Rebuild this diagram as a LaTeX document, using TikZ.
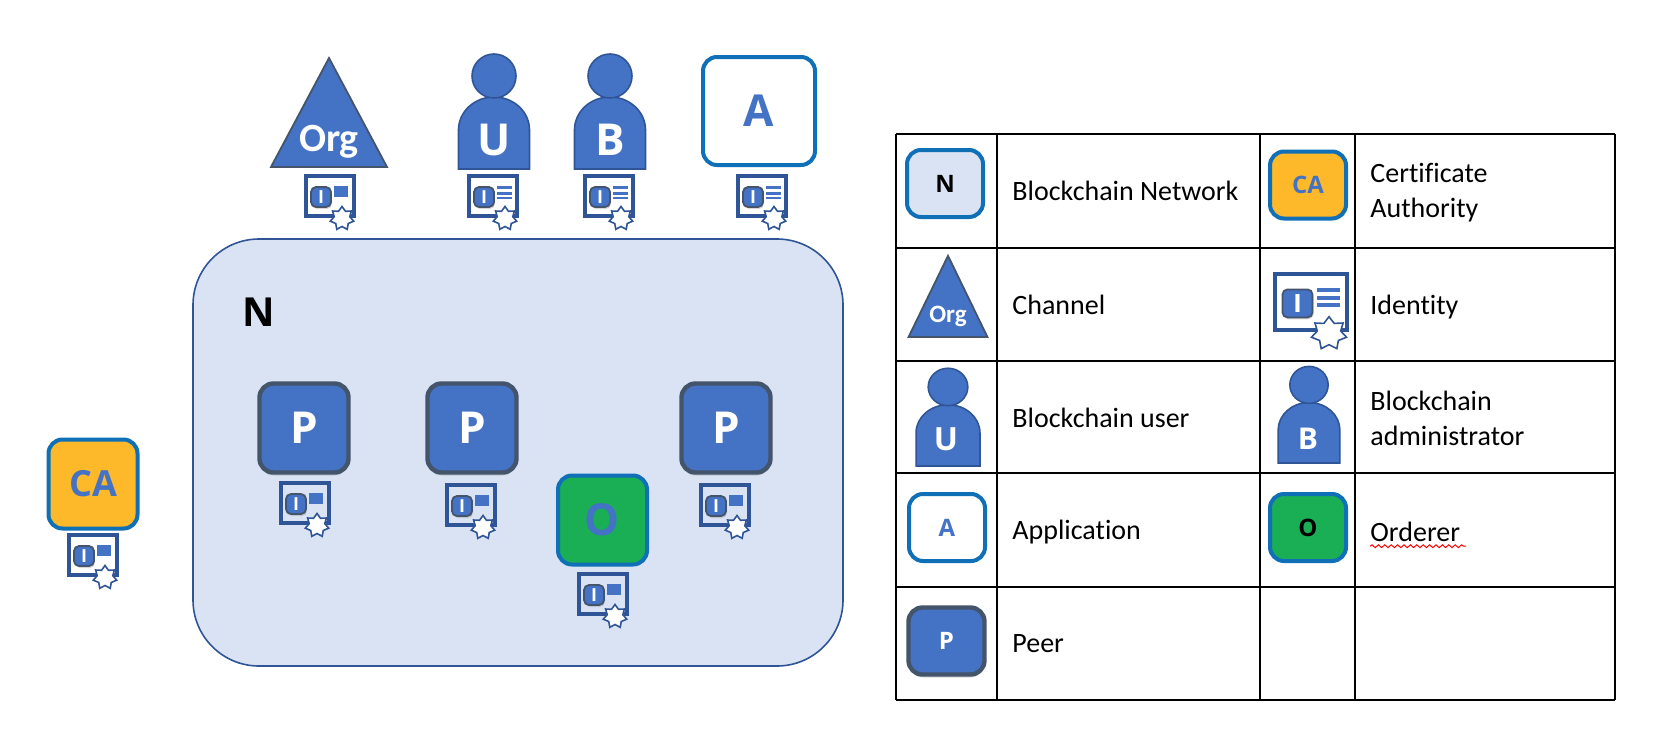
\documentclass[tikz,border=0pt]{standalone}
\usepackage{fontspec}
\setmainfont{Carlito}[Ligatures=CommonOff]
\newfontfamily\badgefont{Open Sans}
\usetikzlibrary{shapes.geometric}
\usetikzlibrary{shadows}
\usetikzlibrary{decorations.pathmorphing}
\definecolor{bluefill}{HTML}{4472C4}
\definecolor{blueline}{HTML}{2F5597}
\definecolor{ringblue}{HTML}{0F70B7}
\definecolor{slate}{HTML}{44546A}
\definecolor{netfill}{HTML}{DAE3F3}
\definecolor{caamber}{HTML}{FDB92A}
\definecolor{ordgreen}{HTML}{1AAF54}
\tikzset{badge/.style = {rounded corners=7pt, font=\badgefont\bfseries, inner sep=0}}
\tikzset{ringed/.style = {badge, draw=ringblue, line width=2pt}}
\tikzset{peerbox/.style = {badge, draw=slate, line width=2.2pt, fill=bluefill, text=white,
                           drop shadow={shadow xshift=0pt, shadow yshift=-1.5pt, opacity=0.3}}}
\tikzset{big/.style = {minimum width=44.5pt, minimum height=44.5pt, font=\badgefont\bfseries\fontsize{22}{22}\selectfont}}
\tikzset{small/.style = {minimum width=38pt, minimum height=33.5pt, font=\badgefont\bfseries\fontsize{12}{12}\selectfont}}
\tikzset{badgetext/.style = {font=\badgefont\bfseries\fontsize{22}{22}\selectfont, text=white, inner sep=0}}
\tikzset{legendtext/.style = {anchor=west, font=\fontsize{14}{16}\selectfont, align=left, inner sep=0}}
\tikzset{shape line/.style = {draw=blueline, line width=0.8pt, fill=bluefill}}
\tikzset{person/.pic = {
    \path [shape line] (-35.5, 0) -- (-35.5, -39) arc (180:360:35.5 and 33) -- (35.5, 0) -- cycle;
    \path [shape line] (0, -93) circle (22);
}}
\tikzset{org/.pic = {
    \path [draw=slate, line width=0.9pt, fill=bluefill] (-58, 0) -- (0, -109) -- (58, 0) -- cycle;
}}
\tikzset{idcardbase/.pic = {
    \draw [blueline, line width=2pt] (-24, -20) rectangle (24, 20);
    \node [draw=slate, line width=0.9pt, fill=bluefill, rounded corners=2.5pt, minimum size=10pt, inner sep=0,
           text=white, font=\badgefont\bfseries\fontsize{9}{9}\selectfont,
           drop shadow={shadow xshift=0.5pt, shadow yshift=-1pt, opacity=0.3}] (btn) at (-9, 1) {I};
    \node [star, star points=7, star point ratio=1.5, minimum size=12pt, inner sep=0,
           draw=blueline, line width=0.8pt, fill=white] (seal) at (12, 22.5) {};
}}
\tikzset{idcard/.pic = {
    \pic (base) at (0, 0) {idcardbase};
    \fill [bluefill] (4, -10) rectangle (18, 1);
}}
\tikzset{idcardbars/.pic = {
    \pic (base) at (0, 0) {idcardbase};
    \foreach \y in {-10, -4.3, 0.5} {
      \fill [bluefill] (4, \y) rectangle (19, \y + 2.8);
    }
}}
\begin{document}
\begin{tikzpicture}[x=0.5pt, y=-0.5pt]
    \useasboundingbox (0, 0) rectangle (1654, 734);

    \node [draw=blueline, line width=0.8pt, fill=netfill, rounded corners=33pt, minimum width=325pt, minimum height=213.5pt] (net) at (518, 452.5) {};
    \node [font=\badgefont\bfseries\fontsize{20}{20}\selectfont, inner sep=0] (netlabel) at (259, 312) {N};

    \pic (orgshape) at (329, 167) {org};
    \node [badgetext, font=\bfseries\fontsize{20}{20}\selectfont] (orglabel) at (329, 142) {Org};
    \pic (usershape) at (494, 169) {person};
    \node [badgetext] (userlabel) at (494, 140) {U};
    \pic (adminshape) at (610, 169) {person};
    \node [badgetext] (adminlabel) at (610, 140) {B};
    \node [ringed, big, minimum width=56pt, minimum height=54pt, fill=white, text=bluefill] (app) at (759, 111) {A};

    \foreach \name/\x/\kind in {cardorg/330/idcard, carduser/493/idcardbars, cardadmin/609/idcardbars, cardapp/762/idcardbars} {
      \pic (\name) at (\x, 196) {\kind};
    }

    \node [peerbox, big] (peerA) at (304, 428) {P};
    \node [peerbox, big] (peerB) at (472, 428) {P};
    \node [peerbox, big] (peerC) at (726, 428) {P};
    \node [ringed, big, fill=ordgreen, text=bluefill] (orderer) at (602.5, 520) {O};
    \node [ringed, big, fill=caamber, text=bluefill, font=\badgefont\bfseries\fontsize{18}{18}\selectfont] (ca) at (93, 484) {CA};

    \foreach \name/\x/\y in {cardA/305/503, cardB/471/505, cardC/725/505, cardO/603/594, cardCA/93/555} {
      \pic (\name) at (\x, \y) {idcard};
    }

    % legend grid
    \foreach \x in {896, 997, 1260, 1355, 1615} {
      \draw [line width=1pt] (\x, 134) -- (\x, 700);
    }
    \foreach \y in {134, 248, 361, 473, 587, 700} {
      \draw [line width=1pt] (896, \y) -- (1615, \y);
    }

    \node [ringed, small, fill=netfill] (keynet) at (945, 183.5) {N};
    \node [ringed, small, fill=caamber, text=bluefill] (keyca) at (1308, 185) {CA};
    \pic [xscale=0.68, yscale=0.745] (keyorgshape) at (948, 337) {org};
    \node [badgetext, font=\bfseries\fontsize{12.5}{12.5}\selectfont] (keyorglabel) at (948, 316) {Org};
    \pic [xscale=1.5, yscale=1.4, transform shape] (keyid) at (1311, 302) {idcardbars};
    \pic [xscale=0.9, yscale=0.85] (keyuser) at (948, 466) {person};
    \node [badgetext, font=\badgefont\bfseries\fontsize{16}{16}\selectfont] (keyuserlabel) at (946, 439) {U};
    \pic [xscale=0.87, yscale=0.84] (keyadmin) at (1309, 463) {person};
    \node [badgetext, font=\badgefont\bfseries\fontsize{15}{15}\selectfont] (keyadminlabel) at (1308, 439) {B};
    \node [ringed, small, fill=white, text=bluefill] (keyapp) at (947, 527.5) {A};
    \node [ringed, small, fill=ordgreen] (keyord) at (1308, 527.5) {O};
    \node [peerbox, small] (keypeer) at (946.5, 641) {P};

    \node [legendtext] (txtnet) at (1012, 191) {Blockchain Network};
    \node [legendtext] (txtca) at (1370, 192.5) {Certificate\\[1.5pt]Authority};
    \node [legendtext] (txtchan) at (1012, 305) {Channel};
    \node [legendtext] (txtid) at (1370, 307) {Identity};
    \node [legendtext] (txtuser) at (1012, 418) {Blockchain user};
    \node [legendtext] (txtadmin) at (1370, 418) {Blockchain\\[1.5pt]administrator};
    \node [legendtext] (txtapp) at (1012, 532) {Application};
    \node [legendtext] (txtord) at (1370, 532) {Orderer};
    \node [legendtext] (txtpeer) at (1012, 644) {Peer};
    \draw [red, line width=0.5pt, decorate, decoration={snake, amplitude=0.7pt, segment length=3.2pt}]
      (txtord.south west) ++(0, 4) -- ++(96, 0);
\end{tikzpicture}
\end{document}
